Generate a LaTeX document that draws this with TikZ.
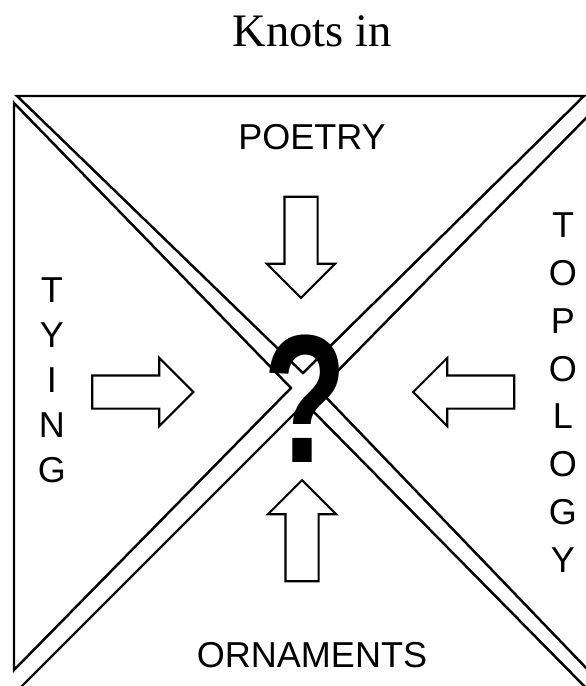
\documentclass[tikz,border=0pt]{standalone}
\usepackage{fontspec}
\setmainfont{Liberation Serif}
\setsansfont{Liberation Sans}
\usetikzlibrary{shapes.arrows}

\begin{document}
\begin{tikzpicture}[
  x=0.02cm, y=-0.02cm,
  piece/.style={draw, line width=1.4pt, line join=miter},
  blockarr/.style={single arrow, draw, line width=1.2pt, minimum width=0pt, minimum height=2.02cm, inner xsep=0pt, inner ysep=0.31cm, single arrow head extend=0.35cm, single arrow tip angle=90, outer sep=0pt},
  title/.style={font=\fontsize{26.5}{30}\selectfont, inner sep=0pt, anchor=base},
  word/.style={font=\sffamily\fontsize{20.5}{24}\selectfont, inner sep=0pt, anchor=base},
  column/.style={font=\sffamily\fontsize{20.5}{#1}\selectfont, inner sep=0pt, anchor=north, align=center},
  qmark/.style={font=\sffamily\bfseries\fontsize{104}{104}\selectfont, inner sep=0pt, anchor=base, xscale=0.75, transform shape}
]
  \useasboundingbox (0,0) rectangle (585,686);

  % the four pieces of the square
  \draw[piece] (17,96) -- (584,96) -- (303,373) -- cycle;
  \draw[piece] (14,103) -- (14,670) -- (291,388) -- cycle;
  \draw[piece] (590,114) -- (590,672) -- (319,390) -- cycle;
  \draw[piece] (18,690) -- (590,692) -- (305,403) -- cycle;

  \node[title] (title) at (312,47) {Knots in};
  \node[word] (poetry) at (312,150) {POETRY};
  \node[word] (ornaments) at (312,667) {ORNAMENTS};
  \node[column=25.6pt] (tying) at (52,277) {T\\Y\\I\\N\\G};
  \node[column=27.3pt] (topology) at (563,212) {T\\O\\P\\O\\L\\O\\G\\Y};
  \node[qmark] (query) at (305,462) {?};

  % arrows pointing to the middle
  \node[blockarr, rotate=-90] (fromtop) at (301,239) {};
  \node[blockarr, rotate=90] (frombottom) at (302,539) {};
  \node[blockarr] (fromleft) at (134.5,392) {};
  \node[blockarr, rotate=180] (fromright) at (472,392) {};
\end{tikzpicture}
\end{document}
